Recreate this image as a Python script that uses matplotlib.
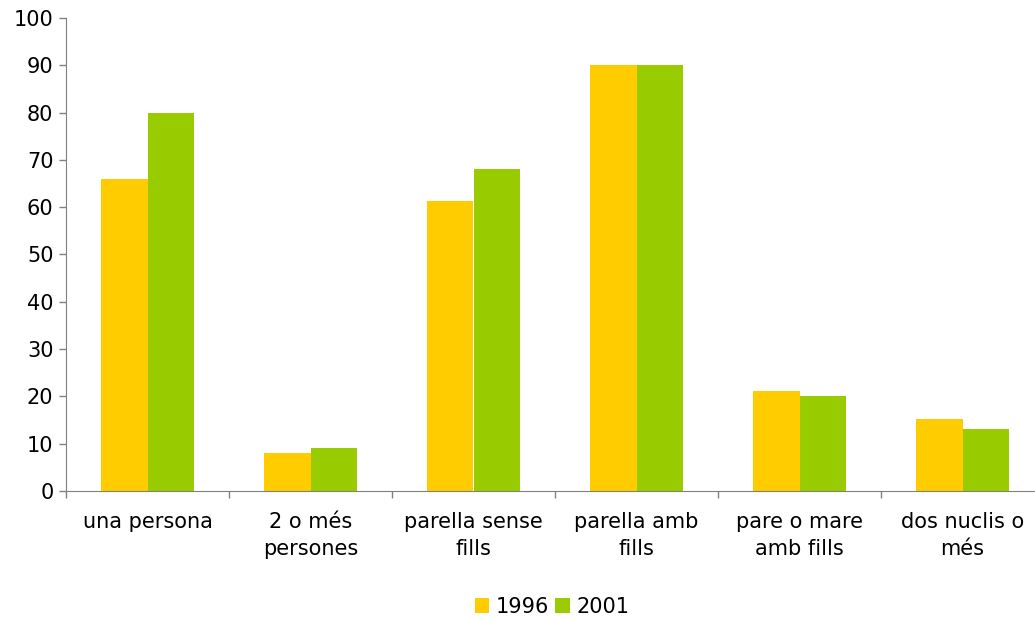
import matplotlib
matplotlib.use("Agg")
import matplotlib.pyplot as plt
import numpy as np

categories = ["una persona", "2 o més\npersones", "parella sense\nfills",
              "parella amb\nfills", "pare o mare\namb fills", "dos nuclis o\nmés"]
series_names = ["1996", "2001"]
values_1996 = [66, 8, 61.3, 90, 21.1, 15.2]
values_2001 = [80, 9, 68, 90, 20, 13.1]
colors = ["#FFCC00", "#99CC00"]

plt.rcParams['font.family'] = ['DejaVu Sans']
fig = plt.figure(figsize=(10.35, 6.21), dpi=100)
ax = fig.add_axes([66/1035, 1 - 491/621, 978/1035, (491-18)/621])

x = np.arange(len(categories))
w = 0.285
ax.bar(x - w/2, values_1996, w, color=colors[0], label=series_names[0], linewidth=0)
ax.bar(x + w/2, values_2001, w, color=colors[1], label=series_names[1], linewidth=0)

ax.set_xlim(-0.5, len(categories) - 0.5)
ax.set_ylim(0, 100)
ax.set_yticks(range(0, 101, 10))
ax.set_xticks(np.arange(len(categories) + 1) - 0.5, minor=False)
ax.set_xticklabels([])
ax.set_xticks(x, minor=True)
ax.set_xticklabels(categories, minor=True, fontsize=15, linespacing=1.45)
ax.tick_params(axis='x', which='minor', length=0, pad=15)
ax.tick_params(axis='x', which='major', length=5, color='#808080', width=1)
ax.tick_params(axis='y', length=5, color='#808080', width=1, labelsize=15, pad=4)

for s in ['top', 'right']:
    ax.spines[s].set_visible(False)
for s in ['left', 'bottom']:
    ax.spines[s].set_color('#808080')

fig.legend(loc='center', bbox_to_anchor=(552/1035, 1 - 607/621), ncol=2,
           frameon=False, fontsize=15, handlelength=0.7, handleheight=0.7,
           handletextpad=0.3, columnspacing=0.3)

fig.savefig("out.png", dpi=100)
